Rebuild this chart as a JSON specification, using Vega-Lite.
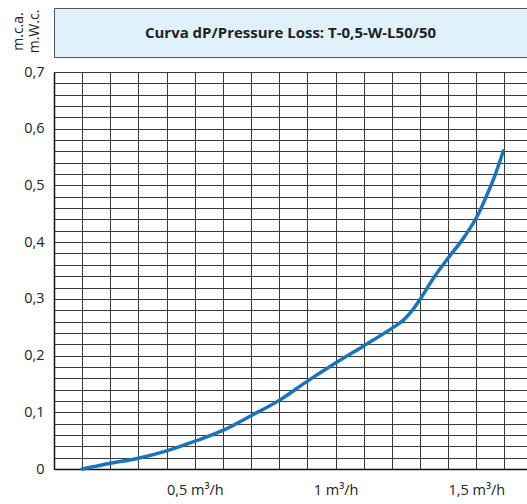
{
  "$schema": "https://vega.github.io/schema/vega-lite/v6.json",
  "padding": {"left": 10, "top": 7, "right": 0, "bottom": 0},
  "background": "#ffffff",
  "spacing": 15,
  "bounds": "flush",
  "config": {
    "font": "Open Sans",
    "view": {"stroke": null}
  },
  "vconcat": [
    {
      "width": 473,
      "height": 49,
      "view": {"fill": "#dff1fb", "stroke": "#555555", "strokeWidth": 1},
      "data": {"values": [{"label": "Curva dP/Pressure Loss: T-0,5-W-L50/50"}]},
      "mark": {"type": "text", "font": "Open Sans", "fontSize": 15, "fontWeight": "bold", "color": "#222222", "align": "center", "baseline": "middle"},
      "encoding": {"text": {"field": "label"}}
    },
    {
      "width": 473,
      "height": 397,
      "data": {"values": [
        {"q": 0.1, "dp": 0.0},
        {"q": 0.15, "dp": 0.005},
        {"q": 0.2, "dp": 0.010},
        {"q": 0.3, "dp": 0.019},
        {"q": 0.4, "dp": 0.032},
        {"q": 0.5, "dp": 0.049},
        {"q": 0.6, "dp": 0.068},
        {"q": 0.7, "dp": 0.094},
        {"q": 0.8, "dp": 0.121},
        {"q": 0.9, "dp": 0.155},
        {"q": 1.0, "dp": 0.187},
        {"q": 1.1, "dp": 0.217},
        {"q": 1.2, "dp": 0.248},
        {"q": 1.24, "dp": 0.262},
        {"q": 1.273, "dp": 0.28},
        {"q": 1.3, "dp": 0.299},
        {"q": 1.35, "dp": 0.338},
        {"q": 1.4, "dp": 0.372},
        {"q": 1.45, "dp": 0.404},
        {"q": 1.5, "dp": 0.443},
        {"q": 1.535, "dp": 0.48},
        {"q": 1.568, "dp": 0.52},
        {"q": 1.596, "dp": 0.561}
      ]},
      "mark": {"type": "line", "interpolate": "catmull-rom", "color": "#1b74bb", "strokeWidth": 3.5, "strokeCap": "round"},
      "encoding": {
        "x": {
          "field": "q", "type": "quantitative",
          "scale": {"domain": [0, 1.68], "nice": false, "zero": false},
          "axis": {
            "title": null,
            "values": [0, 0.1, 0.2, 0.3, 0.4, 0.5, 0.6, 0.7, 0.8, 0.9, 1.0, 1.1, 1.2, 1.3, 1.4, 1.5, 1.6],
            "grid": true, "gridColor": "#3a3a3a", "gridWidth": 1, "gridOpacity": 1,
            "ticks": false, "domain": true, "domainColor": "#111111", "domainWidth": 1.5,
            "labelExpr": "abs(datum.value-0.5)<0.01 ? '0,5 m³/h' : abs(datum.value-1)<0.01 ? '1 m³/h' : abs(datum.value-1.5)<0.01 ? '1,5 m³/h' : ''",
            "labelOverlap": false, "labelFlush": false,
            "labelFont": "Open Sans", "labelFontSize": 14.5, "labelColor": "#222222", "labelPadding": 14
          }
        },
        "y": {
          "field": "dp", "type": "quantitative",
          "scale": {"domain": [0, 0.7], "nice": false},
          "axis": {
            "title": ["m.c.a.", "m.W.c."],
            "titleFont": "Open Sans", "titleFontSize": 14, "titleFontWeight": "normal", "titleColor": "#222222",
            "titleAngle": 270, "titleAlign": "center", "titleBaseline": "middle",
            "titleX": -36, "titleY": -41,
            "values": [0, 0.02, 0.04, 0.06, 0.08, 0.1, 0.12, 0.14, 0.16, 0.18, 0.2, 0.22, 0.24, 0.26, 0.28, 0.3, 0.32, 0.34, 0.36, 0.38, 0.4, 0.42, 0.44, 0.46, 0.48, 0.5, 0.52, 0.54, 0.56, 0.58, 0.6, 0.62, 0.64, 0.66, 0.68, 0.7],
            "grid": true, "gridColor": "#3a3a3a", "gridWidth": 1, "gridOpacity": 1,
            "ticks": false, "domain": true, "domainColor": "#111111", "domainWidth": 1.5,
            "labelExpr": "abs(datum.value*10 - round(datum.value*10)) < 0.01 ? (datum.value < 0.001 ? '0' : replace(format(datum.value, '.1f'), '.', ',')) : ''",
            "labelOverlap": false, "labelFlush": false,
            "labelFont": "Open Sans", "labelFontSize": 14.5, "labelColor": "#222222", "labelPadding": 10
          }
        }
      }
    }
  ]
}
